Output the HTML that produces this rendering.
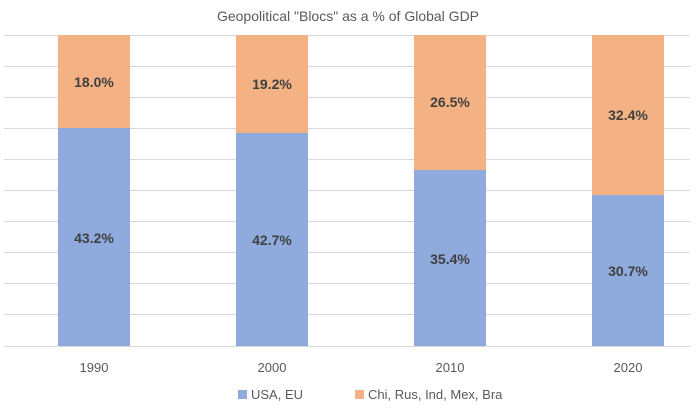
<!DOCTYPE html>
<html><head><style>body{margin:0;background:#fff}</style></head><body>
<svg width="696" height="413" xmlns="http://www.w3.org/2000/svg" font-family="'Liberation Sans',sans-serif">
<rect width="696" height="413" fill="#fff"/>
<text x="348" y="21" text-anchor="middle" font-size="14" fill="#595959">Geopolitical "Blocs" as a % of Global GDP</text>
<g stroke="#d9d9d9" stroke-width="1">
<line x1="4" x2="690" y1="35.5" y2="35.5"/><line x1="4" x2="690" y1="66.5" y2="66.5"/><line x1="4" x2="690" y1="97.5" y2="97.5"/><line x1="4" x2="690" y1="128.5" y2="128.5"/><line x1="4" x2="690" y1="159.5" y2="159.5"/><line x1="4" x2="690" y1="190.5" y2="190.5"/><line x1="4" x2="690" y1="221.5" y2="221.5"/><line x1="4" x2="690" y1="252.5" y2="252.5"/><line x1="4" x2="690" y1="283.5" y2="283.5"/><line x1="4" x2="690" y1="314.5" y2="314.5"/><line x1="4" x2="690" y1="346.5" y2="346.5"/>
</g>
<g fill="#f4b183">
<rect x="58" y="35" width="72" height="94"/><rect x="236" y="35" width="72" height="98"/><rect x="414" y="35" width="72" height="135"/><rect x="592" y="35" width="72" height="160"/>
</g>
<g fill="#8faadc">
<rect x="58" y="128" width="72" height="218"/><rect x="236" y="133" width="72" height="213"/><rect x="414" y="170" width="72" height="176"/><rect x="592" y="195" width="72" height="151"/>
</g>
<g font-size="14" font-weight="bold" fill="#404040" text-anchor="middle">
<text x="94" y="87">18.0%</text><text x="272" y="89">19.2%</text><text x="450" y="107">26.5%</text><text x="628" y="120">32.4%</text>
<text x="94" y="243">43.2%</text><text x="272" y="245">42.7%</text><text x="450" y="264">35.4%</text><text x="628" y="276">30.7%</text>
</g>
<g font-size="13" fill="#595959" text-anchor="middle">
<text x="94" y="372">1990</text><text x="272" y="372">2000</text><text x="450" y="372">2010</text><text x="628" y="372">2020</text>
</g>
<rect x="238" y="390" width="9" height="9" fill="#8faadc"/>
<text x="251" y="399" font-size="13" fill="#595959">USA, EU</text>
<rect x="355" y="390" width="9" height="9" fill="#f4b183"/>
<text x="368" y="399" font-size="13" fill="#595959">Chi, Rus, Ind, Mex, Bra</text>
</svg>
</body></html>
